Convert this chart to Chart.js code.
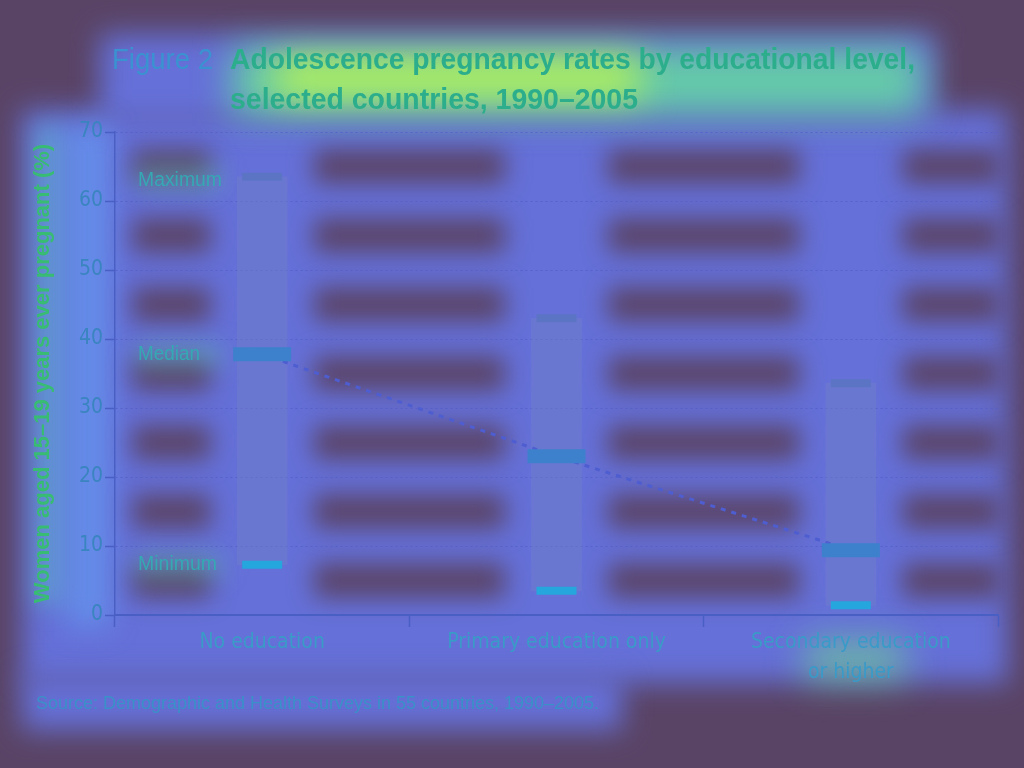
<!DOCTYPE html>
<html>
<head>
<meta charset="utf-8">
<script src="https://cdn.jsdelivr.net/npm/chart.js@4/dist/chart.umd.min.js"></script>
<style>
html,body{margin:0;padding:0;background:#5a4466;overflow:hidden;}
#wrap{position:relative;width:1024px;height:768px;}
</style>
</head>
<body>
<div id="wrap"><canvas id="c"></canvas></div>
<script>
// ---- data ----
const categories = ['No education', 'Primary education only', ['Secondary education', 'or higher']];
const maxValues = [63.5, 43.0, 33.6];
const medianValues = [37.8, 23.0, 9.4];
const minValues = [7.3, 3.5, 1.4];
const yTickMin = 0;
const yTickMax = 70;
const yTickStep = 10;
const titleLead = 'Figure 2';
const titleLines = ['Adolescence pregnancy rates by educational level,', 'selected countries, 1990\u20132005'];
const yAxisTitle = 'Women aged 15\u201319 years ever pregnant (%)';
const markerLabels = ['Maximum', 'Median', 'Minimum'];
const sourceText = 'Source: Demographic and Health Surveys in 55 countries, 1990\u20132005.';

const NARROW = "'DejaVu Sans Condensed','Liberation Sans Narrow',sans-serif";
const SANS = "'Liberation Sans','Arimo',Arial,sans-serif";
const rangeData = categories.map((c, i) => [minValues[i], maxValues[i]]);

const bgPlugin = {
  id: 'bgPlugin',
  beforeDraw(chart) {
    const {ctx, chartArea: a, scales: {x, y}} = chart;
    ctx.save();
    ctx.fillStyle = '#5a4466';
    ctx.fillRect(0, 0, chart.width, chart.height);
    ctx.filter = 'blur(14px)';
    ctx.fillStyle = '#6570d8';
    ctx.fillRect(22, a.top - 22, a.right - 12, a.bottom - a.top + 90);
    ctx.fillRect(100, 34, 835, 88);
    ctx.fillRect(22, 676, 600, 54);
    // lighter column behind the value axis labels
    ctx.fillStyle = 'rgba(100,160,245,0.6)';
    ctx.fillRect(66, a.top - 8, 44, a.bottom - a.top + 20);
    // darker bands between grid lines
    ctx.filter = 'blur(12px)';
    ctx.fillStyle = '#5a4468';
    const centers = categories.map((c, i) => x.getPixelForValue(i));
    for (let v = yTickMin + yTickStep / 2; v < yTickMax; v += yTickStep) {
      const yc = y.getPixelForValue(v);
      let x0 = a.left + 18;
      const segs = [];
      centers.forEach(cx => { segs.push([x0, cx - 52]); x0 = cx + 52; });
      segs.push([x0, a.right + 2]);
      segs.forEach(([s, e]) => { if (e > s) ctx.fillRect(s, yc - 17, e - s, 34); });
    }
    // glows around labels
    ctx.filter = 'blur(12px)';
    ctx.fillStyle = 'rgba(90,200,200,0.5)';
    ctx.fillRect(36, 125, 24, 480);
    ctx.fillStyle = 'rgba(90,200,190,0.45)';
    [maxValues[0], medianValues[0], minValues[0]].forEach(v => {
      ctx.fillRect(136, y.getPixelForValue(v) - 10, 86, 22);
    });
    // title hot glow
    ctx.filter = 'blur(18px)';
    ctx.fillStyle = 'rgba(100,220,160,0.85)';
    ctx.fillRect(232, 48, 690, 66);
    ctx.fillStyle = 'rgba(190,245,80,0.9)';
    ctx.fillRect(275, 58, 365, 40);
    // category label glow
    ctx.fillStyle = 'rgba(110,225,140,0.6)';
    ctx.fillRect(805, 640, 100, 40);
    ctx.restore();
  },
  afterDraw(chart) {
    const {ctx, scales: {y}} = chart;
    ctx.save();
    ctx.textBaseline = 'alphabetic';
    ctx.textAlign = 'left';
    ctx.font = '29px ' + SANS;
    ctx.fillStyle = '#3a92d0';
    ctx.fillText(titleLead, 112, 69, 101);
    ctx.font = 'bold 29px ' + SANS;
    ctx.fillStyle = '#2cae8c';
    ctx.fillText(titleLines[0], 230, 69, 685);
    ctx.fillText(titleLines[1], 230, 109, 408);
    // marker labels
    ctx.font = '20px ' + SANS;
    ctx.fillStyle = '#35a8b4';
    ctx.textBaseline = 'middle';
    ctx.fillText(markerLabels[0], 138, y.getPixelForValue(maxValues[0]) + 4, 84);
    ctx.fillText(markerLabels[1], 138, y.getPixelForValue(medianValues[0]), 62);
    ctx.fillText(markerLabels[2], 138, y.getPixelForValue(minValues[0]), 79);
    // source
    ctx.font = '19px ' + SANS;
    ctx.fillStyle = '#3a90c8';
    ctx.fillText(sourceText, 36, 704, 563);
    ctx.restore();
  }
};

new Chart(document.getElementById('c'), {
  data: {
    labels: categories,
    datasets: [
      {
        type: 'line', label: 'Maximum', data: maxValues, showLine: false,
        pointStyle: 'line', pointRadius: 20, pointHoverRadius: 20, pointBorderWidth: 8,
        borderColor: '#5b74c4', backgroundColor: '#5b74c4', order: 0
      },
      {
        type: 'line', label: 'Median', data: medianValues, showLine: false,
        pointStyle: 'line', pointRadius: 29, pointHoverRadius: 29, pointBorderWidth: 14,
        borderColor: '#3d80cc', backgroundColor: '#3d80cc', order: 0
      },
      {
        type: 'line', label: 'Minimum', data: minValues, showLine: false,
        pointStyle: 'line', pointRadius: 20, pointHoverRadius: 20, pointBorderWidth: 8,
        borderColor: '#25a6dc', backgroundColor: '#25a6dc', order: 0
      },
      {
        type: 'line', label: 'Median trend', data: medianValues, showLine: true,
        borderColor: '#4e5ed0', borderWidth: 3, borderDash: [5, 6], pointRadius: 0,
        fill: false, tension: 0, order: 1
      },
      {
        type: 'bar', label: 'Range', data: rangeData,
        backgroundColor: 'rgba(115,130,200,0.4)', borderWidth: 0,
        barThickness: 50, order: 2
      }
    ]
  },
  options: {
    responsive: true,
    maintainAspectRatio: false,
    animation: false,
    events: [],
    layout: {autoPadding: false, padding: {left: 30, right: 26, top: 132, bottom: 0}},
    plugins: {legend: {display: false}, tooltip: {enabled: false}, title: {display: false}},
    scales: {
      x: {
        type: 'category', offset: true,
        afterFit(s) { s.height = 153; s.paddingLeft = 0; s.paddingRight = 0; },
        grid: {display: true, drawOnChartArea: false, drawTicks: true, tickLength: 12, tickColor: '#4a5fc4', tickWidth: 1.5, offset: true},
        border: {display: true, color: '#4a5fc4', width: 2},
        ticks: {color: '#3a9ac8', font: {family: NARROW, size: 21, lineHeight: 1.45}, padding: 0, maxRotation: 0, autoSkip: false}
      },
      y: {
        min: yTickMin, max: yTickMax,
        afterFit(s) { s.width = 85; },
        ticks: {stepSize: yTickStep, color: '#3a84c0', font: {family: NARROW, size: 21}, padding: 2},
        grid: {color: 'rgba(85,95,200,0.85)', lineWidth: 1, drawTicks: true, tickLength: 10, tickColor: '#4a5fc4', tickWidth: 1.5, tickBorderDash: []},
        border: {display: true, color: '#4a5fc4', width: 1.5, dash: [2, 3]},
        title: {display: true, text: yAxisTitle, color: '#38bc74', font: {family: SANS, size: 22, weight: 'bold'}, padding: 0}
      }
    }
  },
  plugins: [bgPlugin]
});
</script>
</body>
</html>
